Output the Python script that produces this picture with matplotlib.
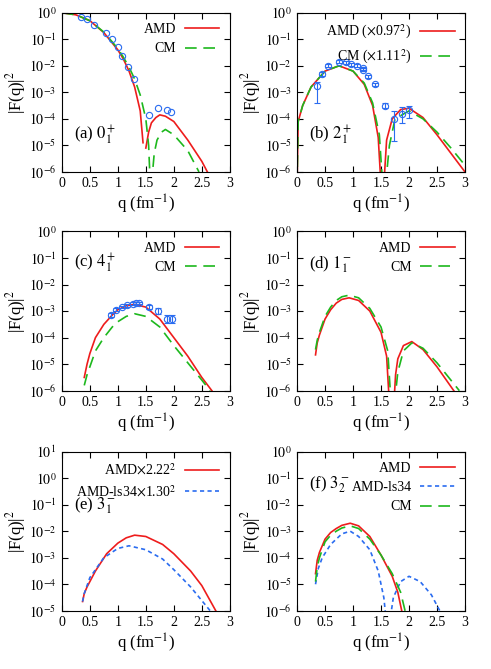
import numpy as np
import matplotlib
matplotlib.use("Agg")
import matplotlib.pyplot as plt
from matplotlib.ticker import FixedLocator, NullLocator

plt.rcParams["font.family"] = ["Liberation Serif", "DejaVu Serif"]
plt.rcParams["mathtext.fontset"] = "stix"

nan = np.nan

# panel (a) 0+1 : q, log10|F|^2
a_amd_q = [0, 0.25, 0.5, 0.75, 1.0, 1.1, 1.2, 1.3, 1.4, 1.45, nan, 1.5, 1.55, 1.6, 1.68, 1.75, 1.85, 2.0, 2.25, 2.5, 2.6]
a_amd_v = [0, -0.08, -0.3, -0.75, -1.4, -1.75, -2.2, -2.8, -3.7, -4.9, nan, -5.1, -4.5, -4.15, -3.95, -3.85, -3.9, -4.1, -4.8, -5.6, -6.0]
a_cm_q = [0, 0.25, 0.5, 0.75, 1.0, 1.1, 1.2, 1.3, 1.4, 1.5, 1.55, 1.58, nan, 1.6, 1.65, 1.7, 1.78, 1.85, 2.0, 2.25, 2.45]
a_cm_v = [0, -0.08, -0.3, -0.73, -1.35, -1.68, -2.05, -2.5, -3.1, -4.0, -5.0, -6.5, nan, -6.5, -5.3, -4.8, -4.5, -4.4, -4.6, -5.2, -6.0]
a_exp_q = [0.35, 0.45, 0.58, 0.78, 0.9, 1.0, 1.08, 1.18, 1.28, 1.55, 1.72, 1.87, 1.95]
a_exp_v = [-0.15, -0.25, -0.45, -0.75, -1.0, -1.3, -1.65, -2.05, -2.5, -3.85, -3.6, -3.65, -3.75]

# panel (b) 2+1
b_amd_q = [0.0, 0.02, 0.1, 0.25, 0.5, 0.75, 1.0, 1.2, 1.35, 1.45, 1.5, nan, 1.55, 1.6, 1.7, 1.85, 2.0, 2.25, 2.5, 2.75, 3.0]
b_amd_v = [-6.5, -4.1, -3.5, -2.8, -2.2, -2.0, -2.2, -2.7, -3.5, -4.7, -6.5, nan, -6.5, -4.8, -4.0, -3.65, -3.6, -3.95, -4.6, -5.3, -6.0]
b_cm_q = [0.0, 0.02, 0.1, 0.25, 0.5, 0.75, 1.0, 1.2, 1.35, 1.47, 1.53, nan, 1.58, 1.65, 1.75, 2.0, 2.25, 2.5, 2.75, 3.0]
b_cm_v = [-6.5, -4.1, -3.5, -2.8, -2.2, -2.0, -2.2, -2.65, -3.4, -4.6, -6.5, nan, -6.5, -5.0, -4.0, -3.7, -4.0, -4.5, -5.1, -5.75]
b_exp_q = [0.35, 0.45, 0.55, 0.75, 0.87, 0.97, 1.07, 1.17, 1.18, 1.27, 1.4, 1.57, 1.73, 1.88, 2.0]
b_exp_v = [-2.75, -2.3, -2.0, -1.85, -1.87, -1.95, -2.0, -2.1, -2.15, -2.4, -2.7, -3.5, -4.0, -3.8, -3.65]
b_exp_lo = [-3.4, -2.38, -2.06, -1.9, -1.92, -2.0, -2.05, -2.15, -2.2, -2.45, -2.75, -3.6, -4.85, -4.15, -3.95]
b_exp_hi = [-2.6, -2.22, -1.94, -1.8, -1.82, -1.9, -1.95, -2.05, -2.1, -2.35, -2.65, -3.4, -3.7, -3.55, -3.5]

# panel (c) 4+1
c_amd_q = [0.4, 0.45, 0.5, 0.6, 0.75, 0.9, 1.0, 1.15, 1.3, 1.5, 1.75, 2.0, 2.25, 2.5, 2.68]
c_amd_v = [-5.5, -5.0, -4.6, -4.0, -3.5, -3.15, -2.95, -2.8, -2.75, -2.85, -3.3, -4.0, -4.7, -5.5, -6.0]
c_cm_q = [0.4, 0.45, 0.5, 0.6, 0.75, 0.9, 1.0, 1.15, 1.3, 1.5, 1.75, 2.0, 2.25, 2.5, 2.65]
c_cm_v = [-5.8, -5.4, -5.1, -4.5, -4.0, -3.6, -3.4, -3.2, -3.1, -3.2, -3.6, -4.3, -4.95, -5.6, -6.0]
c_exp_q = [0.87, 0.97, 1.07, 1.17, 1.27, 1.32, 1.37, 1.55, 1.72, 1.88, 1.97]
c_exp_v = [-3.15, -2.95, -2.85, -2.78, -2.72, -2.7, -2.7, -2.85, -3.0, -3.3, -3.3]
c_exp_err = [0.06, 0.05, 0.05, 0.05, 0.05, 0.05, 0.05, 0.07, 0.1, 0.15, 0.15]

# panel (d) 1-1
d_amd_q = [0.33, 0.36, 0.4, 0.5, 0.6, 0.7, 0.8, 0.93, 1.1, 1.3, 1.5, 1.6, 1.65, nan, 1.73, 1.76, 1.8, 1.9, 2.05, 2.25, 2.5, 2.8]
d_amd_v = [-4.65, -4.2, -3.9, -3.3, -2.95, -2.7, -2.56, -2.5, -2.6, -3.0, -3.8, -4.7, -6.5, nan, -6.5, -5.4, -4.8, -4.3, -4.15, -4.45, -5.1, -6.0]
d_cm_q = [0.33, 0.36, 0.4, 0.5, 0.6, 0.7, 0.8, 0.93, 1.1, 1.3, 1.5, 1.62, 1.68, nan, 1.74, 1.8, 1.9, 2.05, 2.25, 2.5, 2.9]
d_cm_v = [-4.45, -4.1, -3.8, -3.2, -2.85, -2.6, -2.46, -2.4, -2.5, -2.9, -3.6, -4.5, -6.5, nan, -6.5, -5.3, -4.5, -4.2, -4.4, -4.95, -6.0]

# panel (e) 3-1
e_amd_q = [0.37, 0.4, 0.45, 0.6, 0.8, 1.0, 1.15, 1.3, 1.5, 1.8, 2.0, 2.3, 2.5, 2.75]
e_amd_v = [-4.65, -4.35, -4.1, -3.5, -2.85, -2.45, -2.25, -2.15, -2.2, -2.5, -2.85, -3.5, -4.05, -5.0]
e_ls_q = [0.37, 0.4, 0.5, 0.75, 1.0, 1.2, 1.5, 1.8, 2.0, 2.3, 2.65]
e_ls_v = [-4.65, -4.35, -3.75, -3.0, -2.65, -2.55, -2.7, -3.05, -3.45, -4.1, -5.0]

# panel (f) 3-2
f_amd_q = [0.33, 0.36, 0.4, 0.5, 0.6, 0.7, 0.8, 0.95, 1.1, 1.3, 1.5, 1.7, 1.8, 1.87]
f_amd_v = [-4.6, -4.1, -3.8, -3.3, -3.05, -2.9, -2.78, -2.7, -2.8, -3.2, -3.9, -4.7, -5.3, -6.0]
f_ls_q = [0.33, 0.38, 0.45, 0.6, 0.8, 0.95, 1.1, 1.3, 1.45, 1.55, 1.6, nan, 1.65, 1.72, 1.85, 2.0, 2.2, 2.4, 2.55]
f_ls_v = [-5.0, -4.4, -4.0, -3.5, -3.1, -3.0, -3.2, -3.7, -4.5, -5.5, -6.5, nan, -6.5, -5.5, -4.9, -4.7, -4.9, -5.4, -6.0]
f_cm_q = [0.33, 0.36, 0.4, 0.5, 0.6, 0.7, 0.8, 0.95, 1.1, 1.3, 1.5, 1.7, 1.85, 1.93]
f_cm_v = [-4.9, -4.35, -4.0, -3.4, -3.15, -3.0, -2.88, -2.8, -2.9, -3.3, -3.9, -4.6, -5.3, -6.0]

RED = "#ee1c1c"
GREEN = "#1db81d"
BLUE = "#2a6cf0"
SOLID = dict(color=RED, lw=1.2)
CM = dict(color=GREEN, lw=1.2, dashes=(7, 4))
LS = dict(color=BLUE, lw=1.2, dashes=(2.5, 2))


def p(v):
    return 10.0 ** np.asarray(v, dtype=float)


def setup(ax, ymin=-6, ymax=0):
    ax.set_yscale("log")
    ax.set_xlim(0, 3)
    ax.set_ylim(10.0 ** ymin, 10.0 ** ymax)
    ax.set_xticks([0, 0.5, 1, 1.5, 2, 2.5, 3])
    ax.set_xticklabels(["0", "0.5", "1", "1.5", "2", "2.5", "3"])
    decs = list(range(ymin, ymax + 1))
    ax.yaxis.set_major_locator(FixedLocator([10.0 ** d for d in decs]))
    ax.set_yticklabels([r"$10^{%d}$" % d for d in decs])
    ax.yaxis.set_minor_locator(NullLocator())
    ax.tick_params(direction="in", top=True, right=True, labelsize=10, length=4, pad=4)
    ax.set_xlabel(r"q (fm$^{-1}$)", fontsize=12, labelpad=2)
    ax.set_ylabel(r"|F(q)|$^2$", fontsize=12, labelpad=1)
    for s in ax.spines.values():
        s.set_linewidth(0.8)


def exp_pts(ax, q, v, lo=None, hi=None):
    v = p(v)
    if lo is not None:
        err = [v - p(lo), p(hi) - v]
        ax.errorbar(q, v, yerr=err, fmt="none", ecolor=BLUE, elinewidth=0.8, capsize=2, capthick=0.8)
    ax.plot(q, v, "o", mfc="none", mec=BLUE, ms=4.5, mew=0.8, ls="none")


def leg(ax):
    ax.legend(loc="upper right", frameon=False, markerfirst=False, fontsize=10,
              handlelength=2.5, handletextpad=0.6, borderaxespad=0.35, labelspacing=0.45)


W, H = 0.342, 0.238
fig = plt.figure(figsize=(4.91, 6.69), dpi=100)
axa = fig.add_axes([0.126, 0.743, W, H])
axb = fig.add_axes([0.605, 0.743, W, H])
axc = fig.add_axes([0.126, 0.416, W, H])
axd = fig.add_axes([0.605, 0.416, W, H])
axe = fig.add_axes([0.126, 0.087, W, H])
axf = fig.add_axes([0.605, 0.087, W, H])

# (a)
setup(axa)
axa.plot(a_amd_q, p(a_amd_v), label="AMD", **SOLID)
axa.plot(a_cm_q, p(a_cm_v), label="CM", **CM)
exp_pts(axa, a_exp_q, a_exp_v)
leg(axa)
axa.text(0.07, 0.2, r"(a) $0^+_1$", transform=axa.transAxes, fontsize=12)

# (b)
setup(axb)
axb.plot(b_amd_q, p(b_amd_v), label=r"AMD ($\times$0.97$^2$)", **SOLID)
axb.plot(b_cm_q, p(b_cm_v), label=r"CM ($\times$1.11$^2$)", **CM)
exp_pts(axb, b_exp_q, b_exp_v, b_exp_lo, b_exp_hi)
leg(axb)
axb.text(0.07, 0.2, r"(b) $2^+_1$", transform=axb.transAxes, fontsize=12)

# (c)
setup(axc)
axc.plot(c_amd_q, p(c_amd_v), label="AMD", **SOLID)
axc.plot(c_cm_q, p(c_cm_v), label="CM", **CM)
cv = np.array(c_exp_v)
cerr = np.array(c_exp_err)
exp_pts(axc, c_exp_q, cv, cv - cerr, cv + cerr)
leg(axc)
axc.text(0.07, 0.77, r"(c) $4^+_1$", transform=axc.transAxes, fontsize=12)

# (d)
setup(axd)
axd.plot(d_amd_q, p(d_amd_v), label="AMD", **SOLID)
axd.plot(d_cm_q, p(d_cm_v), label="CM", **CM)
leg(axd)
axd.text(0.07, 0.77, r"(d) $1^-_1$", transform=axd.transAxes, fontsize=12)

# (e)
setup(axe, ymin=-5, ymax=1)
axe.plot(e_amd_q, p(e_amd_v), label=r"AMD$\times$2.22$^2$", **SOLID)
axe.plot(e_ls_q, p(e_ls_v), label=r"AMD-ls34$\times$1.30$^2$", **LS)
leg(axe)
axe.text(0.07, 0.64, r"(e) $3^-_1$", transform=axe.transAxes, fontsize=12)

# (f)
setup(axf)
axf.plot(f_amd_q, p(f_amd_v), label="AMD", **SOLID)
axf.plot(f_ls_q, p(f_ls_v), label="AMD-ls34", **LS)
axf.plot(f_cm_q, p(f_cm_v), label="CM", **CM)
leg(axf)
axf.text(0.07, 0.77, r"(f) $3^-_2$", transform=axf.transAxes, fontsize=12)

fig.savefig("out.png", dpi=100)
